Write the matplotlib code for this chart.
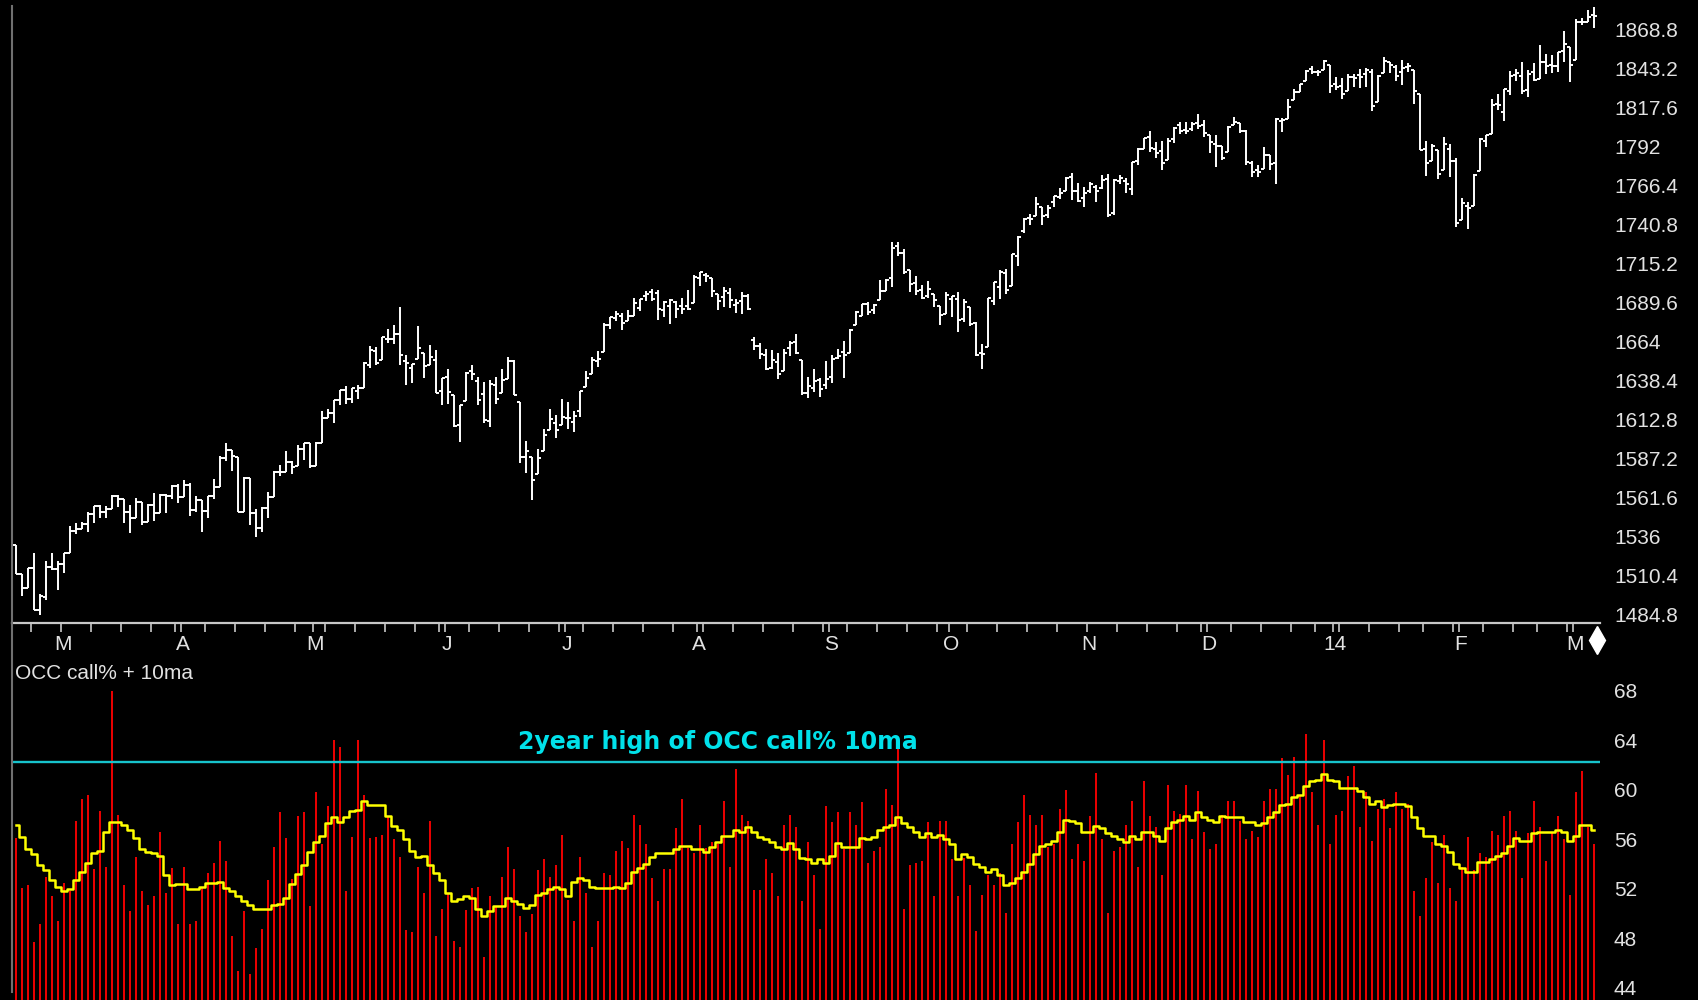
import matplotlib
matplotlib.use('Agg')
import matplotlib.pyplot as plt
from matplotlib.lines import Line2D
from matplotlib.transforms import blended_transform_factory
import numpy as np
import pandas as pd

plt.rcParams['font.family'] = ['Liberation Sans', 'DejaVu Sans']

# trading days, Feb 20 2013 .. Mar 7 2014
holidays = ['2013-03-29', '2013-05-27', '2013-07-04', '2013-09-02', '2013-11-28',
            '2013-12-25', '2014-01-01', '2014-01-20', '2014-02-17']
dates = pd.bdate_range('2013-02-20', '2014-03-07')
dates = dates[~dates.isin(pd.to_datetime(holidays))]

opens = [
    1530.9, 1511.9, 1502.4, 1515.6, 1487.9, 1496.9, 1516.0,
    1514.7, 1518.2, 1525.2, 1539.8, 1541.5, 1544.3, 1551.2, 1556.2, 1552.5, 1554.5,
    1563.2, 1560.7, 1552.1, 1548.3, 1558.7, 1545.8, 1556.9, 1551.7, 1563.8, 1562.9,
    1569.2, 1562.2, 1570.3, 1553.7, 1560.0, 1553.3, 1563.1, 1568.6, 1587.7, 1593.4,
    1588.8, 1552.4, 1574.6, 1552.0, 1541.6, 1555.3, 1562.5, 1578.8, 1578.8, 1585.2, 1582.3, 1593.6,
    1597.6, 1582.8, 1597.6, 1614.4, 1617.6, 1625.9, 1632.7, 1626.7, 1632.1, 1633.8,
    1649.1, 1658.1, 1652.4, 1665.7, 1666.2, 1669.4, 1651.6, 1646.7, 1652.6, 1656.6, 1649.1, 1652.1,
    1631.7, 1640.7, 1629.0, 1609.3, 1625.3, 1644.7, 1638.6, 1629.9, 1612.2, 1635.5,
    1630.6, 1639.8, 1651.8, 1624.6, 1588.6, 1588.8, 1577.5, 1592.3, 1606.4, 1611.1,
    1609.8, 1614.3, 1611.5, 1618.7, 1634.2, 1642.9, 1651.6, 1657.4, 1675.3, 1679.6,
    1681.0, 1677.9, 1681.0, 1686.2, 1694.4, 1696.6, 1696.1, 1685.2, 1687.3, 1690.3, 1687.9, 1687.8,
    1689.4, 1706.1, 1708.0, 1705.8, 1695.3, 1693.4, 1696.1, 1688.4, 1690.7, 1693.9,
    1665.0, 1661.2, 1655.3, 1646.8, 1650.7, 1645.0, 1659.9, 1664.3, 1652.5, 1630.3, 1633.5, 1638.9,
    1635.9, 1640.7, 1653.3, 1657.4, 1656.9, 1675.1, 1681.0, 1689.2, 1685.0, 1691.7,
    1697.7, 1705.7, 1727.3, 1722.4, 1711.4, 1702.6, 1698.0, 1694.1, 1695.5, 1687.3,
    1682.4, 1691.9, 1692.4, 1678.8, 1687.2, 1676.2, 1657.0, 1660.9, 1691.1, 1699.9,
    1709.2, 1700.5, 1720.2, 1736.7, 1745.2, 1746.5, 1752.3, 1747.5, 1756.0, 1759.4, 1763.0, 1772.3, 1763.2,
    1758.7, 1763.4, 1765.7, 1765.0, 1770.7, 1748.4, 1770.0, 1769.5, 1764.4, 1782.8,
    1790.7, 1798.8, 1790.8, 1789.6, 1783.5, 1797.2, 1806.3, 1802.9, 1803.5, 1808.0,
    1806.6, 1800.1, 1794.2, 1792.8, 1788.4, 1806.2, 1807.5, 1802.8, 1781.7, 1777.0,
    1777.5, 1786.5, 1781.5, 1809.0, 1810.4, 1822.9, 1828.0, 1835.0, 1843.0, 1841.5, 1842.6,
    1845.9, 1833.2, 1832.3, 1828.7, 1837.9, 1839.0, 1840.1, 1841.3, 1821.4, 1840.5,
    1848.0, 1844.2, 1841.1, 1844.7, 1842.3, 1827.0, 1791.0, 1783.0, 1790.2, 1777.2, 1790.9,
    1782.7, 1743.8, 1753.4, 1753.0, 1776.0, 1796.2, 1800.5, 1820.1, 1814.8, 1828.5,
    1839.3, 1838.9, 1829.2, 1841.1, 1836.8, 1847.7, 1845.8, 1844.9, 1855.1,
    1857.7, 1849.2, 1874.1, 1874.2, 1878.5,
]
highs = [
    1530.9, 1511.9, 1515.6, 1525.8, 1498.9, 1520.1, 1525.3,
    1520.0, 1525.3, 1543.5, 1545.3, 1545.8, 1552.5, 1556.3, 1556.8, 1556.4, 1563.3,
    1563.6, 1560.7, 1557.3, 1561.6, 1558.7, 1557.7, 1564.9, 1563.9, 1564.0, 1570.3,
    1570.6, 1573.7, 1571.5, 1562.6, 1560.0, 1563.1, 1573.9, 1589.1, 1597.4, 1593.4,
    1588.8, 1575.4, 1574.6, 1554.4, 1555.9, 1565.5, 1579.6, 1583.0, 1592.6, 1585.8, 1596.7, 1597.6,
    1597.6, 1598.6, 1618.5, 1619.8, 1626.0, 1632.8, 1635.0, 1633.7, 1636.0, 1651.1,
    1661.5, 1660.5, 1667.5, 1672.8, 1674.9, 1687.2, 1655.5, 1649.8, 1674.2, 1656.6, 1661.9, 1659.0,
    1640.4, 1646.5, 1629.3, 1622.7, 1644.4, 1648.7, 1640.8, 1637.7, 1639.3, 1641.2,
    1646.5, 1654.2, 1652.5, 1624.6, 1599.2, 1588.8, 1593.8, 1606.8, 1620.1, 1615.9,
    1626.6, 1624.3, 1619.0, 1632.1, 1644.7, 1654.2, 1657.9, 1676.6, 1680.2, 1684.5,
    1683.0, 1684.8, 1693.1, 1692.1, 1697.6, 1698.8, 1698.4, 1690.9, 1691.9, 1690.9, 1693.2, 1698.4,
    1707.9, 1709.7, 1709.2, 1705.8, 1695.3, 1700.2, 1699.4, 1692.5, 1696.8, 1695.5,
    1667.5, 1663.6, 1659.2, 1658.9, 1657.0, 1659.6, 1664.9, 1669.5, 1652.5, 1641.2, 1646.4, 1640.1,
    1651.4, 1655.7, 1659.2, 1664.8, 1672.4, 1684.1, 1689.1, 1690.0, 1688.7, 1705.0,
    1705.5, 1729.4, 1729.9, 1725.2, 1711.4, 1707.6, 1701.7, 1703.9, 1695.5, 1687.3,
    1696.6, 1693.9, 1696.6, 1691.9, 1687.2, 1676.8, 1662.4, 1692.6, 1703.4, 1711.0,
    1711.6, 1721.8, 1733.4, 1745.3, 1747.8, 1759.3, 1752.3, 1753.7, 1759.8, 1765.0, 1772.1, 1775.2, 1768.5,
    1765.7, 1768.8, 1767.0, 1773.7, 1774.5, 1770.8, 1773.4, 1771.8, 1782.0, 1791.5,
    1798.2, 1802.3, 1795.5, 1795.7, 1798.2, 1804.8, 1808.1, 1808.4, 1808.3, 1813.6,
    1810.0, 1800.1, 1799.8, 1792.8, 1806.0, 1811.5, 1808.0, 1803.0, 1783.0, 1780.0,
    1792.2, 1786.8, 1811.1, 1810.9, 1823.8, 1829.8, 1833.3, 1842.8, 1844.9, 1842.5, 1849.4,
    1845.9, 1838.2, 1837.2, 1840.1, 1840.0, 1843.2, 1844.0, 1843.5, 1839.3, 1850.8,
    1848.0, 1846.0, 1849.3, 1846.9, 1842.3, 1827.0, 1796.0, 1793.9, 1790.2, 1798.8, 1793.9,
    1784.8, 1758.7, 1755.8, 1774.1, 1798.0, 1799.9, 1823.5, 1826.6, 1830.3, 1841.7,
    1842.9, 1847.5, 1842.8, 1846.9, 1858.7, 1852.9, 1852.7, 1854.5, 1867.9,
    1857.7, 1876.2, 1876.5, 1881.9, 1883.6,
]
lows = [
    1511.4, 1497.3, 1502.4, 1487.9, 1485.0, 1494.9, 1514.5,
    1501.5, 1512.3, 1525.2, 1538.1, 1541.5, 1539.4, 1545.1, 1548.2, 1548.3, 1554.5,
    1555.7, 1545.1, 1538.6, 1548.3, 1543.6, 1545.8, 1546.2, 1551.7, 1551.9, 1561.1,
    1558.5, 1562.2, 1549.8, 1552.5, 1539.5, 1548.6, 1560.9, 1568.6, 1586.2, 1579.0,
    1552.3, 1552.4, 1543.7, 1536.0, 1539.4, 1548.2, 1562.5, 1575.8, 1578.8, 1577.6, 1582.3, 1586.5,
    1581.3, 1582.8, 1597.6, 1614.2, 1611.0, 1622.7, 1623.1, 1623.7, 1626.7, 1633.8,
    1646.7, 1648.6, 1652.4, 1663.5, 1662.7, 1648.9, 1635.5, 1636.9, 1652.6, 1640.1, 1648.6, 1630.7,
    1622.7, 1623.6, 1608.4, 1598.2, 1625.3, 1639.3, 1622.9, 1610.9, 1608.1, 1623.0,
    1630.3, 1639.8, 1628.9, 1584.3, 1577.7, 1560.3, 1577.1, 1592.3, 1606.4, 1601.1,
    1609.8, 1606.8, 1604.6, 1614.7, 1634.2, 1642.9, 1647.7, 1657.4, 1672.3, 1677.9,
    1671.8, 1677.9, 1681.0, 1684.1, 1690.7, 1691.1, 1678.5, 1680.1, 1676.0, 1679.8, 1682.4, 1684.9,
    1689.4, 1700.7, 1703.6, 1693.3, 1684.9, 1687.1, 1686.0, 1683.2, 1682.6, 1684.8,
    1658.6, 1652.6, 1645.8, 1646.1, 1639.4, 1645.0, 1654.8, 1656.0, 1629.1, 1627.5, 1630.9, 1628.0,
    1633.4, 1637.4, 1653.1, 1640.6, 1656.9, 1675.1, 1681.0, 1682.0, 1682.2, 1691.7,
    1697.7, 1700.4, 1720.2, 1708.9, 1697.1, 1694.9, 1691.9, 1693.1, 1687.1, 1675.0,
    1682.1, 1680.3, 1670.4, 1677.3, 1674.7, 1655.0, 1646.5, 1660.9, 1688.5, 1692.1,
    1695.5, 1700.5, 1714.1, 1735.7, 1740.7, 1746.5, 1740.5, 1745.5, 1752.5, 1757.7, 1763.0, 1757.2, 1755.7,
    1752.7, 1761.6, 1755.8, 1764.4, 1746.2, 1747.6, 1767.9, 1762.0, 1760.6, 1780.2,
    1790.7, 1788.4, 1784.7, 1777.2, 1783.5, 1794.7, 1800.6, 1800.8, 1802.6, 1804.0,
    1798.6, 1787.9, 1779.1, 1783.4, 1788.4, 1806.2, 1801.4, 1780.1, 1772.3, 1772.5,
    1777.5, 1777.2, 1768.0, 1801.7, 1810.4, 1822.9, 1828.0, 1835.0, 1839.8, 1838.8, 1842.4,
    1827.7, 1829.1, 1823.7, 1828.7, 1831.4, 1830.4, 1831.4, 1815.5, 1821.4, 1840.5,
    1840.3, 1835.2, 1832.4, 1840.9, 1820.1, 1790.3, 1772.9, 1783.0, 1771.0, 1777.2, 1772.3,
    1739.7, 1743.8, 1737.9, 1753.0, 1776.0, 1791.8, 1800.4, 1816.0, 1809.2, 1825.9,
    1835.0, 1827.0, 1824.9, 1835.6, 1836.8, 1840.2, 1840.7, 1841.1, 1847.5,
    1834.4, 1849.2, 1871.9, 1874.2, 1870.1,
]
closes = [
    1511.95, 1502.42, 1515.60, 1487.85, 1496.94, 1515.99, 1514.68,
    1518.20, 1525.20, 1539.79, 1541.46, 1544.26, 1551.18, 1556.22, 1552.48, 1554.52, 1563.23,
    1560.70, 1552.10, 1548.34, 1558.71, 1545.80, 1556.89, 1551.69, 1563.77, 1562.85, 1569.19,
    1562.17, 1570.25, 1553.69, 1559.98, 1553.28, 1563.07, 1568.61, 1587.73, 1593.37, 1588.85,
    1552.36, 1574.57, 1552.01, 1541.61, 1555.25, 1562.50, 1578.78, 1578.79, 1585.16, 1582.24, 1593.61, 1597.57,
    1582.70, 1597.59, 1614.42, 1617.50, 1625.96, 1632.69, 1626.67, 1633.70, 1633.77, 1650.34,
    1658.78, 1650.47, 1667.47, 1666.29, 1669.16, 1655.35, 1650.51, 1649.60, 1660.06, 1648.36, 1654.41, 1630.74,
    1640.42, 1631.38, 1608.90, 1622.56, 1643.38, 1642.81, 1626.13, 1612.52, 1636.36, 1626.73,
    1639.04, 1651.81, 1628.93, 1588.19, 1592.43, 1573.09, 1588.03, 1603.26, 1613.20, 1606.28,
    1614.96, 1614.08, 1615.41, 1631.89, 1640.46, 1652.32, 1652.62, 1675.02, 1680.19, 1682.50,
    1676.26, 1680.91, 1689.37, 1692.09, 1695.53, 1692.39, 1685.94, 1690.25, 1691.65, 1685.33, 1685.96, 1685.73,
    1706.87, 1709.67, 1707.14, 1697.37, 1690.91, 1697.48, 1691.42, 1689.47, 1694.16, 1685.39,
    1661.32, 1655.83, 1646.06, 1652.35, 1642.80, 1656.96, 1663.50, 1656.78, 1630.48, 1634.96, 1638.17, 1632.97,
    1639.77, 1653.08, 1655.08, 1655.17, 1671.71, 1683.99, 1689.13, 1683.42, 1687.99, 1697.60,
    1704.76, 1725.52, 1722.34, 1709.91, 1701.84, 1697.42, 1692.77, 1698.67, 1691.75, 1681.55,
    1695.00, 1693.87, 1678.66, 1690.50, 1676.12, 1655.45, 1656.40, 1692.56, 1703.20, 1710.14,
    1698.06, 1721.54, 1733.15, 1744.50, 1744.66, 1754.67, 1746.38, 1752.07, 1759.77, 1762.11, 1771.95, 1763.31, 1756.54,
    1761.64, 1767.93, 1762.97, 1770.49, 1747.15, 1770.61, 1771.89, 1767.69, 1782.00, 1790.62,
    1798.18, 1791.53, 1787.87, 1781.37, 1795.85, 1804.76, 1802.48, 1802.75, 1807.23, 1805.81,
    1800.90, 1795.15, 1792.81, 1785.03, 1805.09, 1808.37, 1802.62, 1782.22, 1775.50, 1775.32,
    1786.54, 1781.00, 1810.65, 1809.60, 1818.32, 1827.99, 1833.32, 1842.02, 1841.40, 1841.07, 1848.36,
    1831.98, 1831.37, 1826.77, 1837.88, 1837.49, 1838.13, 1842.37, 1819.20, 1838.88, 1848.38,
    1845.89, 1838.70, 1843.80, 1844.86, 1828.46, 1790.29, 1781.56, 1792.50, 1774.20, 1794.19, 1782.59,
    1741.89, 1755.20, 1751.64, 1773.43, 1797.02, 1799.84, 1819.75, 1819.26, 1829.83, 1838.63,
    1840.76, 1828.75, 1839.78, 1836.25, 1847.61, 1845.12, 1845.16, 1854.29, 1859.45,
    1845.73, 1873.91, 1873.81, 1877.03, 1878.04,
]

# OCC call percentage and its 10 day average
call_pct = [
    56.1, 52.1, 52.3, 47.7, 49.2, 53.0, 51.4, 49.4, 52.5, 51.8,
    57.5, 59.3, 59.6, 53.6, 58.3, 53.8, 68.0, 58.0, 52.3, 50.2,
    54.6, 51.8, 50.7, 51.4, 56.6, 51.7, 53.7, 49.2, 53.8, 49.2,
    49.4, 52.2, 53.3, 54.1, 55.9, 54.3, 48.2, 45.4, 50.2, 45.1,
    47.2, 48.8, 52.7, 55.4, 58.2, 56.1, 52.8, 57.9, 58.2, 50.6,
    59.8, 55.6, 58.7, 64.0, 63.5, 51.8, 56.2, 64.0, 59.6, 56.1,
    56.2, 56.4, 57.9, 56.0, 54.6, 48.7, 48.5, 53.8, 51.7, 57.5,
    48.2, 50.4, 51.7, 47.8, 47.3, 50.3, 52.1, 52.2, 46.5, 51.4,
    50.6, 53.0, 55.4, 53.6, 49.8, 48.5, 50.0, 53.5, 54.4, 53.0,
    53.9, 56.4, 51.1, 49.4, 54.6, 51.7, 47.3, 49.4, 53.3, 53.1,
    55.1, 55.9, 55.3, 58.0, 57.2, 55.6, 52.9, 51.0, 53.6, 53.6,
    56.9, 59.3, 55.3, 54.9, 57.2, 55.3, 55.8, 55.6, 59.1, 53.8,
    61.7, 58.0, 57.5, 51.9, 51.9, 54.4, 53.3, 51.4, 57.2, 58.0,
    57.0, 51.0, 55.8, 53.1, 48.8, 58.7, 57.4, 58.2, 55.2, 58.2,
    57.2, 59.0, 54.1, 55.1, 55.4, 60.1, 58.8, 64.1, 50.4, 53.9,
    54.1, 54.3, 57.4, 51.4, 57.5, 57.5, 54.4, 51.4, 54.5, 52.3,
    48.6, 51.5, 53.1, 52.3, 53.3, 50.1, 55.6, 57.4, 59.6, 58.0,
    57.2, 58.0, 55.4, 55.6, 58.5, 60.0, 54.4, 55.6, 54.3, 57.9,
    61.4, 56.0, 50.1, 55.1, 55.4, 57.2, 59.1, 53.8, 60.7, 57.9,
    57.0, 53.1, 60.4, 58.3, 58.1, 60.4, 56.0, 59.9, 56.6, 55.2,
    55.6, 58.0, 59.1, 59.1, 57.5, 56.0, 56.7, 56.2, 59.1, 60.1,
    60.1, 62.6, 61.2, 62.7, 59.6, 64.5, 59.8, 57.2, 64.0, 55.6,
    58.0, 58.3, 61.1, 61.9, 57.0, 59.8, 55.9, 58.5, 59.3, 56.9,
    59.8, 58.5, 58.9, 51.8, 49.8, 52.9, 55.8, 52.5, 56.4, 52.1,
    51.0, 53.8, 56.2, 53.5, 54.9, 54.6, 56.7, 56.4, 57.9, 58.3,
    56.7, 52.9, 56.5, 59.1, 57.0, 54.3, 56.5, 57.9, 56.0, 51.5,
    59.8, 61.5, 57.0, 55.6,
]
call_ma10 = [
    57.2, 56.2, 55.2, 54.8, 53.9, 53.5, 52.7, 52.2, 51.8, 52.0,
    52.7, 53.4, 54.1, 54.9, 55.1, 56.6, 57.4, 57.4, 57.2, 56.8,
    56.1, 55.2, 55.0, 54.9, 54.7, 53.1, 52.3, 52.4, 52.4, 52.0,
    52.0, 52.2, 52.5, 52.5, 52.6, 52.1, 51.8, 51.4, 51.0, 50.7,
    50.4, 50.4, 50.4, 50.7, 50.8, 51.3, 52.4, 53.2, 53.9, 55.0,
    55.8, 56.3, 57.3, 57.8, 57.4, 57.8, 58.3, 58.4, 59.1, 58.8,
    58.8, 58.8, 57.9, 57.1, 56.8, 56.0, 55.1, 54.6, 54.7, 53.9,
    53.3, 52.7, 51.7, 51.0, 51.2, 51.4, 51.3, 50.4, 49.8, 50.2,
    50.6, 50.6, 51.3, 51.0, 50.8, 50.5, 50.7, 51.5, 51.7, 52.0,
    52.2, 52.0, 51.4, 52.6, 52.9, 52.7, 52.2, 52.1, 52.1, 52.1,
    52.2, 52.1, 52.5, 53.4, 53.7, 54.0, 54.6, 54.9, 54.9, 54.9,
    55.2, 55.5, 55.5, 55.2, 55.2, 55.0, 55.4, 55.8, 56.3, 56.3,
    56.8, 56.6, 57.0, 56.6, 56.2, 56.0, 55.8, 55.4, 55.2, 55.7,
    55.2, 54.5, 54.4, 54.1, 54.4, 54.1, 54.7, 55.7, 55.4, 55.4,
    55.4, 56.1, 56.0, 56.2, 56.8, 57.0, 57.2, 57.8, 57.3, 57.0,
    56.6, 56.2, 56.5, 56.2, 56.4, 56.0, 55.6, 54.4, 54.8, 54.6,
    54.0, 53.8, 53.4, 53.6, 53.1, 52.3, 52.5, 52.9, 53.4, 54.0,
    54.8, 55.5, 55.6, 55.9, 56.6, 57.6, 57.5, 57.3, 56.6, 56.6,
    57.1, 56.9, 56.5, 56.3, 56.0, 55.8, 56.3, 56.0, 56.6, 56.6,
    56.3, 55.9, 56.9, 57.4, 57.6, 57.9, 57.6, 58.2, 57.8, 57.6,
    57.4, 57.9, 57.8, 57.8, 57.8, 57.4, 57.4, 57.2, 57.3, 57.8,
    58.2, 58.8, 58.9, 59.4, 59.6, 60.3, 60.7, 60.8, 61.3, 60.8,
    60.7, 60.2, 60.2, 60.2, 59.9, 59.4, 58.9, 59.1, 58.6, 58.8,
    58.9, 58.9, 58.7, 57.8, 56.9, 56.3, 56.3, 55.6, 55.5, 55.0,
    54.0, 53.7, 53.4, 53.4, 54.2, 54.2, 54.4, 54.7, 54.9, 55.5,
    56.1, 55.9, 55.9, 56.5, 56.6, 56.6, 56.6, 56.8, 56.6, 55.9,
    56.3, 57.2, 57.2, 56.8,
]
call_high_2y = 62.3

price_ticks = [1484.8 + 25.6 * k for k in range(16)]
call_ticks = [44, 48, 52, 56, 60, 64, 68]

n = len(dates)
for name, arr in [('opens', opens), ('highs', highs), ('lows', lows), ('closes', closes),
                  ('call_pct', call_pct), ('call_ma10', call_ma10)]:
    assert len(arr) == n, (name, len(arr), n)

W, H = 1698, 1000
BG = 'black'
TXT = '#e2e2e2'
AXC = '#c8c8c8'

fig = plt.figure(figsize=(W / 100, H / 100), dpi=100, facecolor=BG)
x = np.arange(n)
xlim = ((12 - 16) / 6, (1600 - 16) / 6)

# ---- call% panel (drawn first so the date labels above it stay visible) ----
ax2 = fig.add_axes([12 / W, 0, 1588 / W, 372 / H])
ax2.patch.set_alpha(0)
ax2.vlines(x, 43.0, call_pct, color='#e80000', lw=1.45, zorder=2)
ax2.plot(x, call_ma10, drawstyle='steps-mid', color='#ffff00', lw=1.8, zorder=4)
ax2.axhline(call_high_2y, color='#17c3cc', lw=1.7, zorder=3)
ax2.set_xlim(*xlim)
ax2.set_ylim(43.03, 73.09)

ax2.yaxis.tick_right()
ax2.set_yticks(call_ticks)
ax2.set_yticklabels([str(v) for v in call_ticks])
ax2.tick_params(axis='y', length=0, pad=10, labelsize=15, labelcolor=TXT)
ax2.set_xticks([])
for s in ax2.spines.values():
    s.set_visible(False)

ax2.text(-0.17, 69.4, 'OCC call% + 10ma', ha='left', va='center', color=TXT, fontsize=15)
ax2.text(117, 63.9, '2year high of OCC call% 10ma', ha='center', va='center',
         color='#00e1ea', fontsize=17, fontweight='bold', family='DejaVu Sans', zorder=5)

# ---- price panel (OHLC bars) ----
ax = fig.add_axes([12 / W, 1 - 623 / H, 1588 / W, 623 / H])
ax.patch.set_alpha(0)
ax.vlines(x, lows, highs, color='white', lw=1.4)
ax.hlines(opens, x - 0.5, x, color='white', lw=1.4)
ax.hlines(closes, x, x + 0.5, color='white', lw=1.4)
ax.set_xlim(*xlim)
ax.set_ylim(1479.54, 1888.49)

ax.yaxis.tick_right()
ax.set_yticks(price_ticks)
ax.set_yticklabels([f'{round(v, 1):g}' for v in price_ticks])
ax.tick_params(axis='y', length=0, pad=10, labelsize=15, labelcolor=TXT)

for s in ['top', 'left', 'right']:
    ax.spines[s].set_visible(False)
ax.spines['bottom'].set_color(AXC)
ax.spines['bottom'].set_linewidth(1.6)

# week and month ticks along the date axis
month_first = [i for i in range(1, n) if dates[i].month != dates[i - 1].month]
week_first = [i for i in range(1, n) if dates[i].weekday() < dates[i - 1].weekday()]
ax.set_xticks([i + 0.5 for i in month_first])
ax.set_xticks([i - 0.5 for i in week_first], minor=True)
ax.tick_params(axis='x', which='both', direction='out', length=6.5, width=1.2,
               color=AXC, labelbottom=False)

trans = blended_transform_factory(ax.transData, ax.transAxes)
for i in month_first:
    d = dates[i]
    lab = d.strftime('%y') if d.month == 1 else d.strftime('%b')[0]
    ax.text(i + 0.85, -22 / 623, lab, transform=trans, ha='center', va='center',
            color=TXT, fontsize=15, clip_on=False)

# left frame line and end-of-data marker
fig.add_artist(Line2D([12 / W, 12 / W], [1 - 6 / H, 1 - 992 / H], transform=fig.transFigure,
                      color='#707070', lw=1.5))
fig.add_artist(Line2D([1597 / W], [1 - 640 / H], transform=fig.transFigure, marker='d',
                      markersize=14.3, color='white', markeredgecolor='white', lw=0))

fig.savefig('out.png', dpi=100, facecolor=BG)
